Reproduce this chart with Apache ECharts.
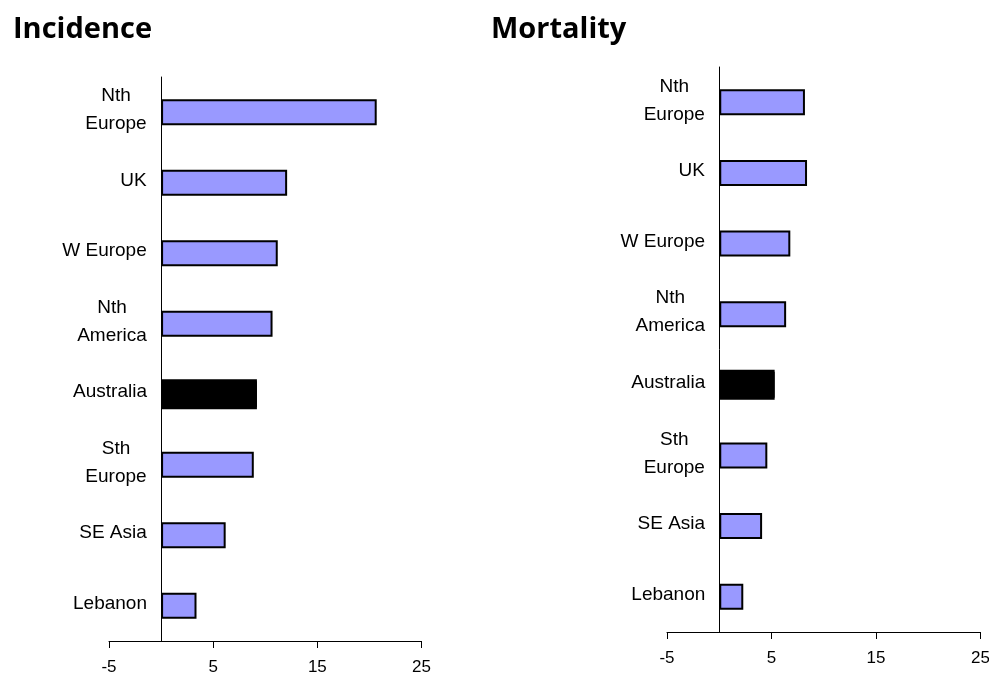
<!DOCTYPE html>
<html lang="en">
<head>
    <meta charset="UTF-8">
    <title>Incidence and Mortality</title>
    <script src="https://cdn.jsdelivr.net/npm/echarts@6/dist/echarts.min.js"></script>
    <style>
        body {
            padding: 0;
            margin: 0;
            border: none;
            background: #fff;
        }
        #ec {
            width: 989px;
            height: 673px;
        }
    </style>
</head>
<body>
<div id="ec"></div>
<script>
    // 数据
    const regions = ['Nth\nEurope', 'UK', 'W Europe', 'Nth\nAmerica', 'Australia', 'Sth\nEurope', 'SE Asia', 'Lebanon'];
    const incidence = [20.7, 12.1, 11.2, 10.7, 9.2, 8.9, 6.2, 3.4];
    const mortality = [8.2, 8.4, 6.8, 6.4, 5.3, 4.6, 4.1, 2.3];
    const xTicks = [-5, 5, 15, 25];
    const highlight = 'Australia';

    const labelFont = '19px "Liberation Sans"';

    // 多行标签：整体右对齐，行内居中
    const measure = document.createElement('canvas').getContext('2d');
    measure.font = labelFont;
    const rich = {};
    regions.forEach((r, i) => {
        let w = Math.max(...r.split('\n').map(l => measure.measureText(l).width));
        rich['r' + i] = {
            width: Math.ceil(w),
            align: 'center',
            fontSize: 19,
            fontFamily: 'Liberation Sans',
            color: '#000',
            lineHeight: 28
        };
    });
    function catLabel(value, index) {
        return value.split('\n').map(l => `{r${index}|${l}}`).join('\n');
    }

    function xAxisOf(gridIndex, margin) {
        return {
            gridIndex,
            type: 'value',
            min: xTicks[0],
            max: xTicks[xTicks.length - 1],
            interval: 10,
            splitLine: {show: false},
            axisLine: {show: true, onZero: false, lineStyle: {color: '#000', width: 1}},
            axisTick: {show: true, length: 7, lineStyle: {color: '#000'}},
            axisLabel: {
                margin,
                fontSize: 17,
                fontFamily: 'Liberation Sans',
                color: '#000'
            }
        };
    }
    // 竖轴画在 x=0 处：用 offset 把整条轴（线和标签）挪过去
    function yAxisOf(gridIndex, offset, hidden) {
        return {
            gridIndex,
            type: 'category',
            inverse: true,
            data: regions,
            show: !hidden,
            offset,
            axisLine: {show: !hidden, onZero: false, lineStyle: {color: '#000', width: 1}},
            axisTick: {show: false},
            axisLabel: {
                show: !hidden,
                margin: 14,
                align: 'right',
                lineHeight: 28,
                padding: [0, 0, 4, 0],
                formatter: catLabel,
                rich
            }
        };
    }
    function barsOf(values, axisIndex) {
        return [{
            type: 'bar',
            xAxisIndex: axisIndex,
            yAxisIndex: axisIndex * 2,
            barWidth: 26,
            data: values.map((v, i) => ({
                value: v,
                itemStyle: regions[i] === highlight ? {color: '#000'} : undefined
            })),
            itemStyle: {color: '#9999ff', borderColor: '#000', borderWidth: 2},
            emphasis: {disabled: true}
        }, {
            type: 'bar',
            xAxisIndex: axisIndex,
            yAxisIndex: axisIndex * 2 + 1,
            barWidth: 30,
            data: values.map((v, i) => regions[i] === highlight ? v : '-'),
            itemStyle: {color: '#000', borderColor: '#000', borderWidth: 2},
            emphasis: {disabled: true}
        }];
    }

    const ec = echarts.init(document.getElementById('ec'));
    ec.setOption({
        animation: false,
        title: [{
            text: 'Incidence',
            left: 8,
            top: 10,
            textStyle: {fontFamily: 'Open Sans', fontWeight: 'bold', fontSize: 29, color: '#000'}
        }, {
            text: 'Mortality',
            left: 486,
            top: 10,
            textStyle: {fontFamily: 'Open Sans', fontWeight: 'bold', fontSize: 29, color: '#000'}
        }],
        grid: [
            {left: 109, right: 567.5, top: 77, bottom: 32, outerBoundsMode: 'none'},
            {left: 667, right: 8.5, top: 67, bottom: 41, outerBoundsMode: 'none'}
        ],
        xAxis: [xAxisOf(0, 18), xAxisOf(1, 18)],
        yAxis: [yAxisOf(0, -52, false), yAxisOf(0, 0, true), yAxisOf(1, -52.3, false), yAxisOf(1, 0, true)],
        series: [...barsOf(incidence, 0), ...barsOf(mortality, 1)]
    });
</script>
</body>
</html>
